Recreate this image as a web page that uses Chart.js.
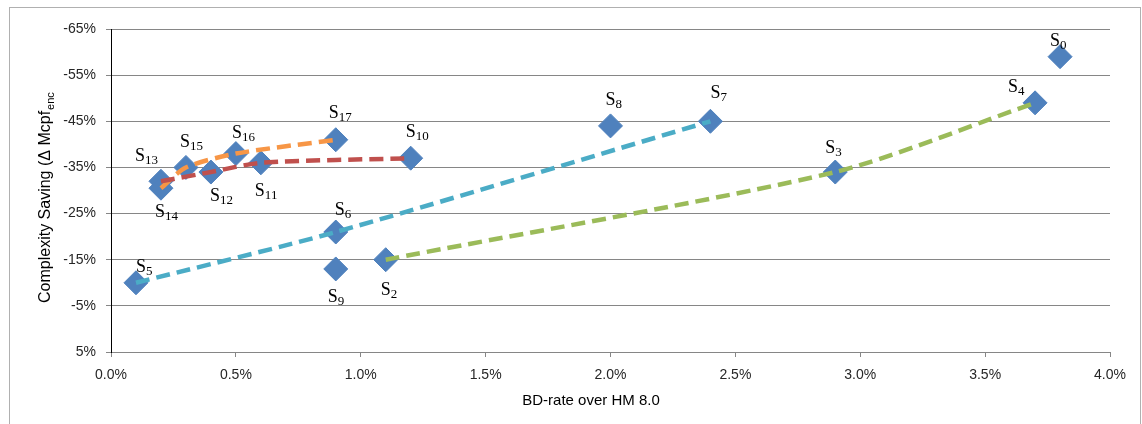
<!DOCTYPE html>
<html>
<head>
<meta charset="utf-8">
<script src="https://cdn.jsdelivr.net/npm/chart.js@4.4.1/dist/chart.umd.min.js"></script>
<style>
  html, body { margin: 0; padding: 0; background: #fff; }
  #wrap { width: 1142px; height: 424px; position: relative; }
</style>
</head>
<body>
<div id="wrap"><canvas id="saving-chart"></canvas></div>
<script>
// configurations S0..S17 (S1 is not plotted)
var pointNames = ['0', '2', '3', '4', '5', '6', '7', '8', '9', '10', '11', '12', '13', '14', '15', '16', '17'];
var bdRate = [3.8, 1.1, 2.9, 3.7, 0.1, 0.9, 2.4, 2.0, 0.9, 1.2, 0.6, 0.4, 0.2, 0.2, 0.3, 0.5, 0.9];
var saving = [-59, -15, -34, -49, -10, -21, -45, -44, -13, -37, -36, -34, -32, -30.5, -35, -38, -41];

// dashed curves join these configurations
var greenCurve = ['2', '3', '4'];
var blueCurve = ['5', '6', '7'];
var redCurve = ['13', '12', '11', '10'];
var orangeCurve = ['14', '15', '16', '17'];

var yTickValues = [-65, -55, -45, -35, -25, -15, -5, 5];
var xTickValues = [0, 0.5, 1, 1.5, 2, 2.5, 3, 3.5, 4];

// where each "S_n" label sits next to its marker (left edge of S, baseline)
var labelOffsets = [[-10, -11], [-5, 35], [-10, -19], [-27, -11], [0, -11], [-1, -17], [0, -23], [-5, -21],
  [-8, 33], [-5, -21], [-6, 33], [-1, 29], [-26, -20], [-6, 29], [-6, -20], [-4, -16], [-7, -22]];

function pointsOf(list) {
  return list.map(function (n) {
    var i = pointNames.indexOf(n);
    return { x: bdRate[i], y: saving[i] };
  });
}

function curve(list, color) {
  return {
    data: pointsOf(list),
    showLine: true,
    borderColor: color,
    borderWidth: 4.5,
    borderDash: [14, 7],
    tension: 0.25,
    pointRadius: 0,
    pointHoverRadius: 0,
    fill: false
  };
}

var tickFont = { family: "'Liberation Sans', Arial, sans-serif", size: 14 };

var pointLabels = {
  id: 'pointLabels',
  afterDatasetsDraw: function (chart) {
    var ctx = chart.ctx;
    var meta = chart.getDatasetMeta(chart.data.datasets.length - 1);
    ctx.save();
    ctx.fillStyle = '#000';
    ctx.textBaseline = 'alphabetic';
    ctx.textAlign = 'left';
    meta.data.forEach(function (pt, i) {
      var x = pt.x + labelOffsets[i][0];
      var y = pt.y + labelOffsets[i][1];
      ctx.font = "18px 'Liberation Serif', 'Times New Roman', serif";
      ctx.fillText('S', x, y);
      var w = ctx.measureText('S').width;
      ctx.font = "13px 'Liberation Serif', 'Times New Roman', serif";
      ctx.fillText(pointNames[i], x + w, y + 3);
    });
    ctx.restore();
  }
};

var frameAndTitles = {
  id: 'frameAndTitles',
  beforeDraw: function (chart) {
    var ctx = chart.ctx;
    ctx.save();
    ctx.strokeStyle = '#b0b0b0';
    ctx.lineWidth = 1;
    ctx.strokeRect(9.5, 7.5, 1131, 430);
    ctx.restore();
  },
  afterDraw: function (chart) {
    var ctx = chart.ctx;
    ctx.save();
    ctx.fillStyle = '#000';
    // x axis title
    ctx.font = "15px 'Liberation Sans', Arial, sans-serif";
    ctx.textAlign = 'center';
    ctx.textBaseline = 'alphabetic';
    ctx.fillText('BD-rate over HM 8.0', 591, 405);
    // y axis title, rotated, with subscript
    ctx.translate(50, 303);
    ctx.rotate(-Math.PI / 2);
    ctx.textAlign = 'left';
    ctx.font = "16px 'Liberation Sans', Arial, sans-serif";
    var main = 'Complexity Saving (\u0394 Mcpf';
    ctx.fillText(main, 0, 0);
    var w = ctx.measureText(main).width;
    ctx.font = "11px 'Liberation Sans', Arial, sans-serif";
    ctx.fillText('enc', w + 1, 4);
    ctx.restore();
  }
};

var ctx = document.getElementById('saving-chart');
var savingChart = new Chart(ctx, {
  type: 'scatter',
  data: {
    datasets: [
      curve(greenCurve, '#9BBB59'),
      curve(blueCurve, '#4BACC6'),
      curve(redCurve, '#C0504D'),
      curve(orangeCurve, '#F79646'),
      {
        data: bdRate.map(function (v, i) { return { x: v, y: saving[i] }; }),
        pointStyle: 'rectRot',
        pointRadius: 12,
        pointHoverRadius: 12,
        backgroundColor: '#4F81BD',
        borderColor: '#4F81BD',
        borderWidth: 1,
        showLine: false
      }
    ]
  },
  options: {
    responsive: true,
    maintainAspectRatio: false,
    animation: false,
    events: [],
    layout: { padding: { left: 0, top: 29, right: 32, bottom: 0 } },
    plugins: {
      legend: { display: false },
      tooltip: { enabled: false },
      title: { display: false }
    },
    scales: {
      x: {
        type: 'linear',
        min: 0,
        max: 4,
        afterBuildTicks: function (s) { s.ticks = xTickValues.map(function (v) { return { value: v }; }); },
        afterFit: function (s) { s.height = 72; },
        ticks: {
          color: '#262626',
          font: tickFont,
          padding: 10,
          maxRotation: 0,
          callback: function (v) { return Number(v).toFixed(1) + '%'; }
        },
        grid: { drawOnChartArea: false, tickLength: 5, color: '#868686' },
        border: { color: '#868686', width: 1 }
      },
      y: {
        type: 'linear',
        reverse: true,
        min: -65,
        max: 5,
        afterBuildTicks: function (s) { s.ticks = yTickValues.map(function (v) { return { value: v }; }); },
        afterFit: function (s) { s.width = 111; },
        ticks: {
          color: '#262626',
          font: tickFont,
          padding: 10,
          callback: function (v) { return v + '%'; }
        },
        grid: { color: '#868686', tickLength: 5, tickColor: '#868686' },
        border: { color: '#000', width: 1 }
      }
    }
  },
  plugins: [pointLabels, frameAndTitles]
});
</script>
</body>
</html>
